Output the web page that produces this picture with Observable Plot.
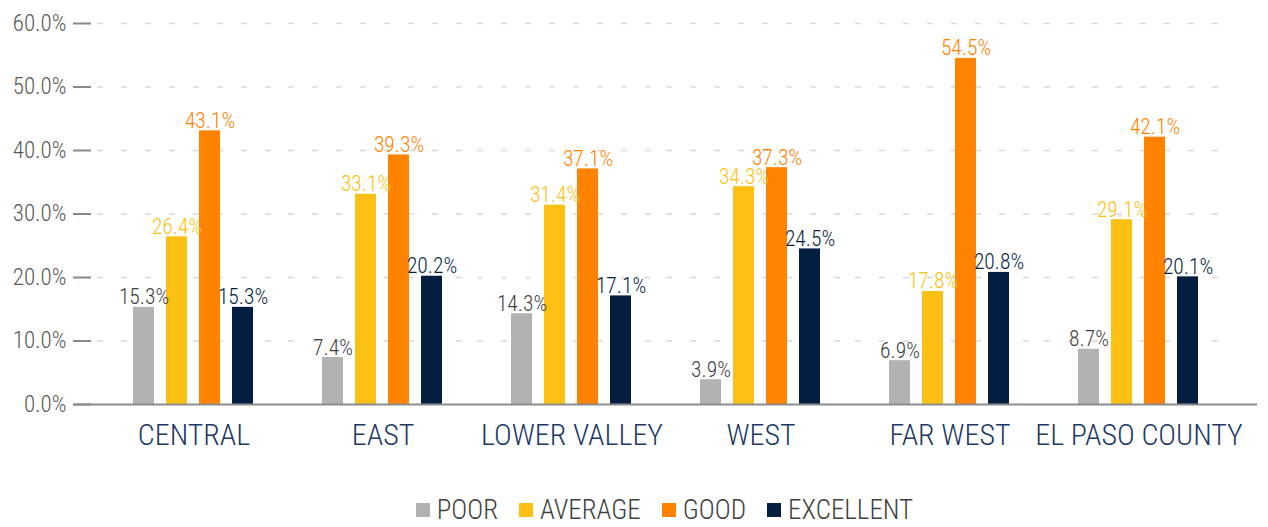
<!DOCTYPE html>
<html><head><meta charset="utf-8">
<script src="https://cdn.jsdelivr.net/npm/d3@7"></script>
<script src="https://cdn.jsdelivr.net/npm/@observablehq/plot@0.6"></script>
<style>
body{margin:0;background:#fff;font-family:Roboto,sans-serif;}
#chart{width:1268px;height:527px;position:relative;}
svg text{font-stretch:75%;font-weight:300;}
.legend{position:absolute;left:0;top:496px;width:1268px;display:flex;justify-content:center;padding-left:61px;box-sizing:border-box;font-size:27px;color:#404040;font-stretch:75%;font-weight:300;line-height:28px;}
.legend .item{display:flex;align-items:center;margin:0 10.5px;}
.legend .sw{width:14px;height:14px;margin-right:7px;display:inline-block;}
</style></head><body><div id="chart"></div>
<script>
const regions = ["CENTRAL","EAST","LOWER VALLEY","WEST","FAR WEST","EL PASO COUNTY"];
const series = ["POOR","AVERAGE","GOOD","EXCELLENT"];
const poor = [15.3,7.4,14.3,3.9,6.9,8.7];
const average = [26.4,33.1,31.4,34.3,17.8,29.1];
const good = [43.1,39.3,37.1,37.3,54.5,42.1];
const excellent = [15.3,20.2,17.1,24.5,20.8,20.1];
const yTicks = [0,10,20,30,40,50,60];
const barColors = ["#b2b2b2","#fcbf14","#ff8200","#041e42"];
const labelColors = ["#404040","#fcbf14","#ff8200","#041e42"];

const valuesBySeries = [poor, average, good, excellent];
const rows = [];
regions.forEach((r, i) => series.forEach((s, j) => rows.push({region: r, series: s, value: valuesBySeries[j][i]})));

// reference lines repeated per facet (grid + baseline)
const first = regions[0], last = regions[regions.length - 1];
const gridRows = [];
regions.forEach(r => yTicks.filter(t => t > 0).forEach(t => gridRows.push({region: r, y: t})));
const baseRows = regions.map(r => ({region: r, y: 0}));
const part = (arr, which) => arr.filter(d => which === "first" ? d.region === first : which === "last" ? d.region === last : (d.region !== first && d.region !== last));

const gridStyle = {fx: "region", y: "y", stroke: "#d9d9d9", strokeWidth: 1.5, strokeDasharray: "6,18"};
const baseStyle = {fx: "region", y: "y", stroke: "#8c8c8c", strokeWidth: 2};

const plot = Plot.plot({
  width: 1268, height: 470, marginTop: 23, marginBottom: 66, marginLeft: 99, marginRight: 35,
  style: {fontFamily: "Roboto, sans-serif", background: "transparent"},
  fx: {domain: regions, padding: 0, label: null},
  x: {domain: series, paddingInner: 0.35, paddingOuter: 0.98, axis: null},
  y: {domain: [0, 60]},
  color: {domain: series, range: barColors},
  marks: [
    Plot.ruleY(part(gridRows, "first"), {...gridStyle, insetLeft: -2}),
    Plot.ruleY(part(gridRows, "mid"), gridStyle),
    Plot.ruleY(part(gridRows, "last"), {...gridStyle, insetRight: 13}),
    Plot.axisY({ticks: yTicks, tickFormat: d => d.toFixed(1) + "%", tickSize: 18, tickPadding: 7, dx: -8, fontSize: 23, color: "#595959", stroke: "#888", strokeWidth: 2, label: null}),
    Plot.axisFx({anchor: "bottom", tickSize: 0, tickPadding: 19, fontSize: 30, color: "#203864", label: null}),
    Plot.barY(rows, {fx: "region", x: "series", y: "value", fill: "series"}),
    ...series.map((s, i) => Plot.text(rows.filter(r => r.series === s), {fx: "region", x: "series", y: "value", text: d => d.value.toFixed(1) + "%", lineAnchor: "bottom", dy: -3, fill: labelColors[i], fontSize: 21.5})),
    Plot.ruleY(part(baseRows, "first"), {...baseStyle, insetLeft: -26}),
    Plot.ruleY(part(baseRows, "mid"), baseStyle),
    Plot.ruleY(part(baseRows, "last"), {...baseStyle, insetRight: -24})
  ]
});
document.getElementById("chart").appendChild(plot);

const legend = document.createElement("div");
legend.className = "legend";
series.forEach((s, i) => {
  const item = document.createElement("span");
  item.className = "item";
  const sw = document.createElement("span");
  sw.className = "sw";
  sw.style.background = barColors[i];
  item.appendChild(sw);
  item.appendChild(document.createTextNode(s));
  legend.appendChild(item);
});
document.getElementById("chart").appendChild(legend);
</script></body></html>
